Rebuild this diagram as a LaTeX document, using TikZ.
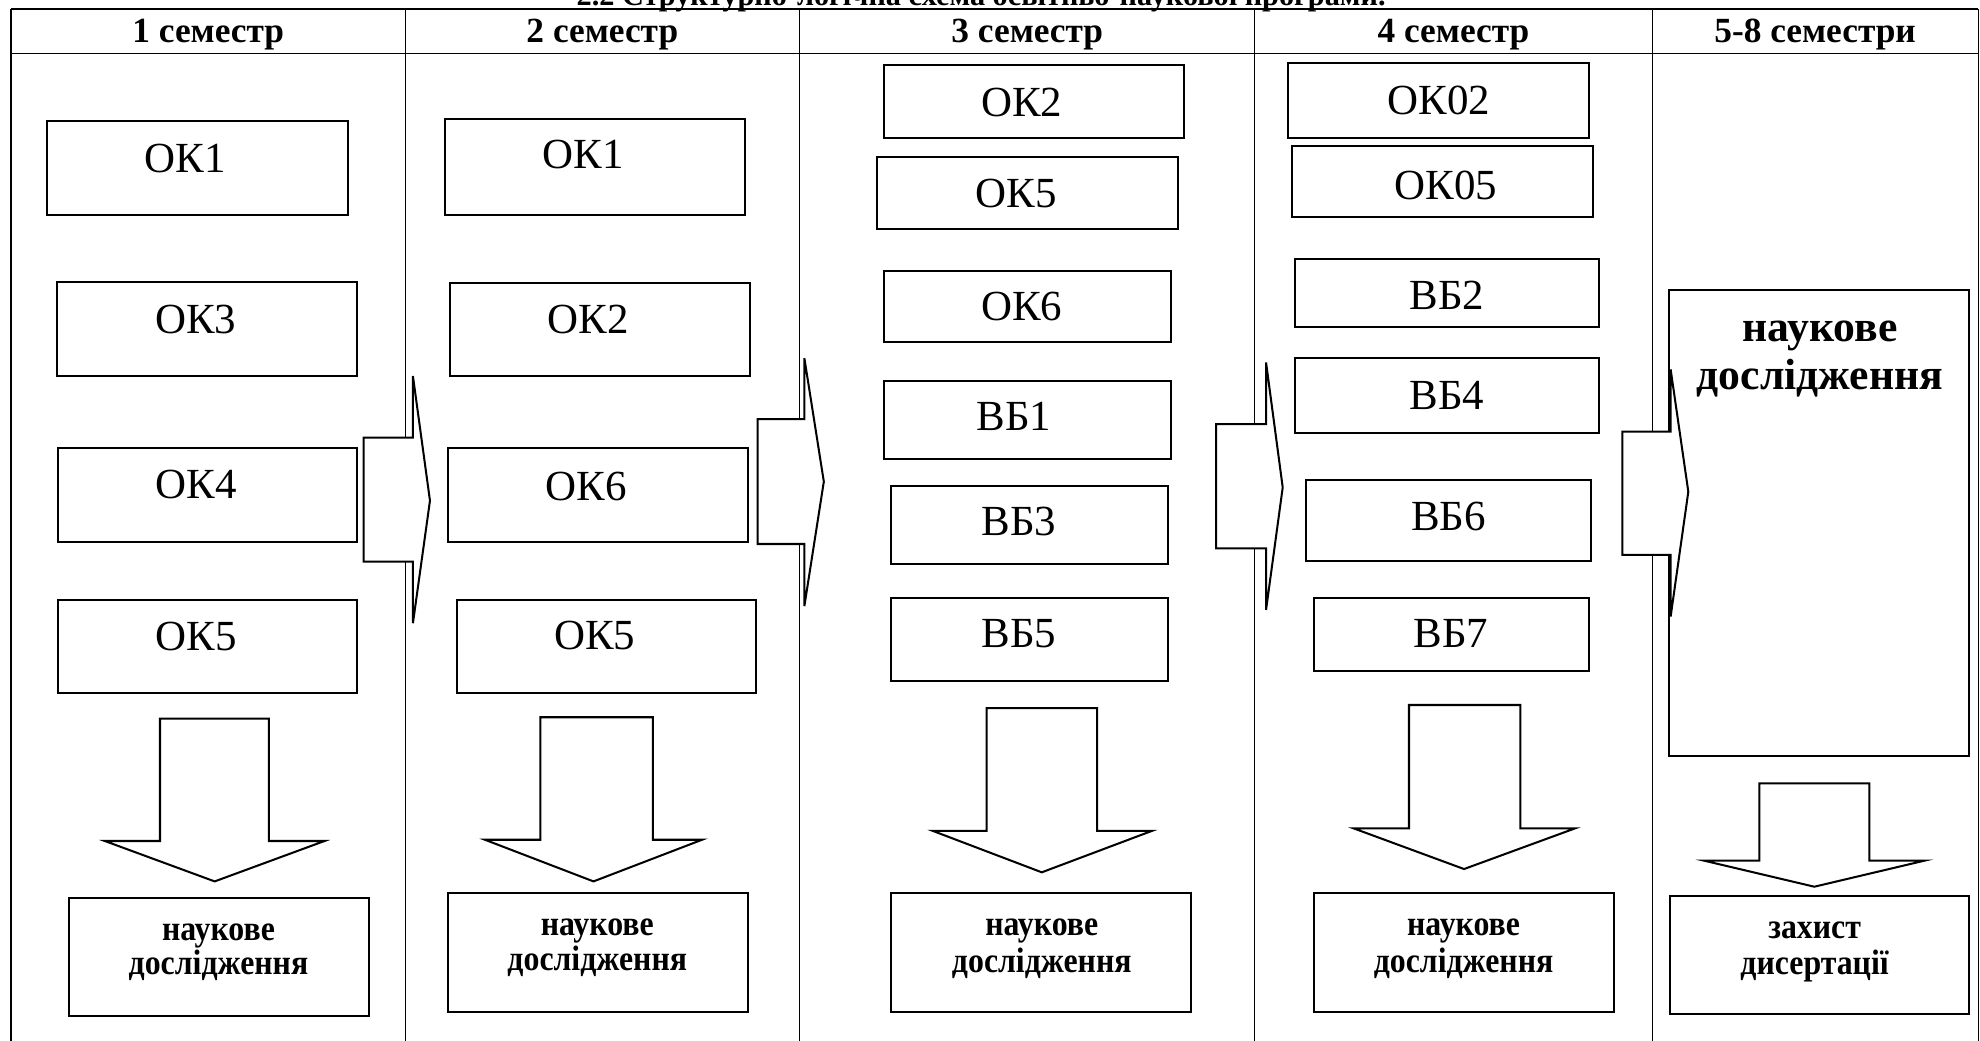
\documentclass[tikz,border=0pt]{standalone}
\usepackage{fontspec}
\setmainfont{Liberation Serif}
\newfontfamily\condserif[FakeStretch=0.9]{Liberation Serif}
\newcommand\mybox[8]{\draw[bx] (#2,#3) rectangle (#4,#5); \node[lbl] (#1) at (#6,#7) {#8};}
\newcommand\resbox[9]{\draw[bx] (#2,#3) rectangle (#4,#5); \node[res] (#1a) at (#6,#7) {#9}; \node[res] (#1b) at (#6,#8) {дослідження};}
\newcommand\rarr[8]{\draw[arw] (#1,#3) -- (#2,#3) -- (#2,#5) -- (#7,#8) -- (#2,#6) -- (#2,#4) -- (#1,#4) -- cycle;}
\newcommand\darr[9]{\draw[arw] (#1,#3) -- (#2,#3) -- (#2,#4) -- (#6,#4) -- (#7,#8) -- (#5,#4) -- (#1,#4) -- cycle;}
\begin{document}
\begin{tikzpicture}[x=0.5pt,y=-0.5pt,
  tbl/.style={line width=0.45pt},
  bx/.style={draw,line width=0.8pt,fill=white},
  arw/.style={draw,line width=0.8pt,fill=white,line join=miter},
  lbl/.style={inner sep=0pt,font=\fontsize{17}{20}\selectfont},
  hdr/.style={inner sep=0pt,anchor=base,font=\bfseries\fontsize{14}{16}\selectfont},
  res/.style={inner sep=0pt,anchor=base,font=\condserif\bfseries\fontsize{14}{16}\selectfont},
  big/.style={inner sep=0pt,anchor=base,font=\bfseries\fontsize{17.3}{20}\selectfont}]
\useasboundingbox (0,0) rectangle (1568,824);
\clip (0,0) rectangle (1568,824);
\fill[white] (0,0) rectangle (1568,824);
% title (cut off at top, as in the reference)
\node[anchor=base,inner sep=0pt,font=\bfseries\fontsize{12}{14}\selectfont] (title) at (777,4.5) {2.2 Структурно-логічна схема освітньо-наукової програми.};
% table
\draw[tbl] (8.7,7.1) -- (1566.5,7.1);
\draw[tbl] (8.7,42.2) -- (1566.5,42.2);
\foreach \xx in {8.7,321,633.3,993.6,1308.3,1566.5} {\draw[tbl] (\xx,7.1) -- (\xx,830);}
\node[hdr] (h1) at (164.9,33.8) {1 семестр};
\node[hdr] (h2) at (477,33.8) {2 семестр};
\node[hdr] (h3) at (813.5,33.8) {3 семестр};
\node[hdr] (h4) at (1151,33.8) {4 семестр};
\node[hdr] (h5) at (1437.4,33.8) {5-8 семестри};
% column 1
\mybox{aok1}{37.6}{95.6}{275.6}{170.3}{146.7}{125.5}{ОК1}
\mybox{aok3}{45.2}{223.6}{282.8}{297.7}{155}{253.4}{ОК3}
\mybox{aok4}{45.7}{355}{283}{429}{155.5}{384}{ОК4}
\mybox{aok5}{45.7}{475.1}{283}{549}{155.5}{504}{ОК5}
% column 2
\mybox{bok1}{352.3}{94}{589.8}{170.3}{461.8}{122.7}{ОК1}
\mybox{bok2}{356.7}{223.8}{594.3}{297.7}{466}{252.7}{ОК2}
\mybox{bok6}{354.5}{355}{592}{429}{464}{385}{ОК6}
\mybox{bok5}{361.6}{475.1}{599}{549}{471}{503.5}{ОК5}
% column 3
\mybox{cok2}{700}{51.5}{937.6}{109}{809}{80.8}{ОК2}
\mybox{cok5}{694.6}{124.6}{932.6}{181.4}{805}{153}{ОК5}
\mybox{cok6}{700}{214.6}{927.4}{270.9}{809}{242.8}{ОК6}
\mybox{cvb1}{700}{301.5}{927}{363.6}{803}{330}{ВБ1}
\mybox{cvb3}{705.6}{384.6}{924.6}{446.7}{807}{413}{ВБ3}
\mybox{cvb5}{705.6}{473.3}{924.6}{539.3}{807}{501.5}{ВБ5}
% column 4
\mybox{dok02}{1020.3}{49.6}{1258.3}{109.5}{1139.3}{79.2}{ОК02}
\mybox{dok05}{1023.4}{115.4}{1261.5}{171.6}{1145}{146.5}{ОК05}
\mybox{dvb2}{1025.2}{204.8}{1266.3}{258.7}{1145.7}{233.6}{ВБ2}
\mybox{dvb4}{1025.2}{283.2}{1266.3}{342.6}{1145.7}{312.8}{ВБ4}
\mybox{dvb6}{1034.5}{380.4}{1259.7}{444}{1147}{409}{ВБ6}
\mybox{dvb7}{1040.3}{473.3}{1258.3}{531.4}{1149}{501.5}{ВБ7}
% column 5 big box
\draw[bx] (1322,229.6) rectangle (1559,598.7);
\node[big] (e1) at (1441.3,270.6) {наукове};
\node[big] (e2) at (1441.3,308.2) {дослідження};
% result boxes
\resbox{r1}{54.6}{711}{292}{804.6}{173}{744.4}{772}{наукове}
\resbox{r2}{354.5}{707.3}{592}{801.5}{473}{740.7}{768.3}{наукове}
\resbox{r3}{705.6}{707.4}{943}{801.7}{825}{741}{770}{наукове}
\resbox{r4}{1040.3}{707.4}{1278.3}{801.7}{1159}{741}{770}{наукове}
\draw[bx] (1322.5,709.3) rectangle (1559.5,803.2);
\node[res] (r5a) at (1437,743) {захист};
\node[res] (r5b) at (1437,772) {дисертації};
% down arrows: sl sr top base hl hr tipx tipy
\darr{126.7}{213}{569}{666}{83}{257}{170}{698}{}
\darr{428}{517}{568}{665}{384}{556}{470}{698}{}
\darr{781.4}{868.8}{560.8}{658}{738.7}{912.2}{825}{690.8}{}
\darr{1115.8}{1204}{558.3}{656}{1072}{1247.3}{1159.4}{688.2}{}
\darr{1393.2}{1480.3}{620.3}{681.6}{1349.6}{1523.9}{1436.8}{702.2}{}
% right arrows: sx hb st sb ht hbot tipx tipy
\rarr{288}{327}{346.6}{444.8}{297.8}{493.5}{340.5}{396.5}
\rarr{600}{637}{332}{430.8}{283.7}{480}{652.4}{381.4}
\rarr{963}{1002.6}{335.8}{434.2}{287}{483}{1015.8}{386}
\rarr{1284.7}{1323}{341.8}{439.5}{292.5}{488.3}{1337}{389.4}
\end{tikzpicture}
\end{document}
